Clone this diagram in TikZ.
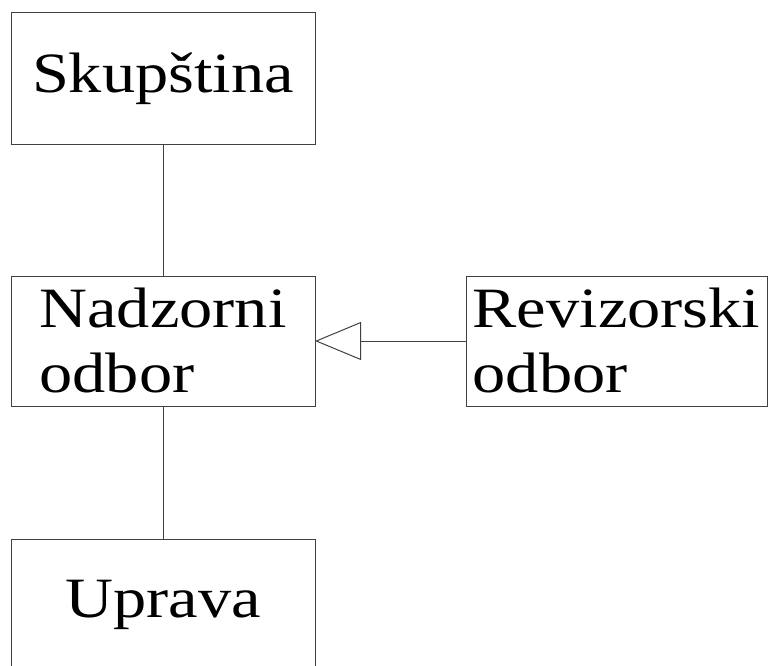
\documentclass[tikz,border=0pt]{standalone}
\usepackage{fontspec}
\setmainfont[FakeStretch=1.165]{Liberation Serif}
\usetikzlibrary{arrows.meta}
\tikzset{
  orgbox/.style={draw=black!75,line width=1pt,rectangle,inner sep=0pt,outer sep=0pt,
    align=left,font=\fontsize{57}{65}\selectfont},
  link/.style={draw=black!75,line width=1pt}
}
\begin{document}
\begin{tikzpicture}[x=1pt,y=1pt]
\useasboundingbox (0,0) rectangle (769,-666);
\node[orgbox,minimum width=304pt,minimum height=132pt](Skup) at (163,-79) {Skupština};
\node[orgbox,minimum width=304pt,minimum height=130pt](Nadz) at (163,-341) {Nadzorni\\odbor};
\node[orgbox,minimum width=301pt,minimum height=130pt](Reviz) at (616.5,-341) {Revizorski\\odbor};
\node[orgbox,minimum width=304pt,minimum height=131pt](Upr) at (163,-604.5) {Uprava};
\draw[link](Skup)--(Nadz);
\draw[link](Nadz)--(Upr);
\draw[link,-{Triangle[open,length=46pt,width=38pt]}](Reviz)--(Nadz);
\end{tikzpicture}
\end{document}
